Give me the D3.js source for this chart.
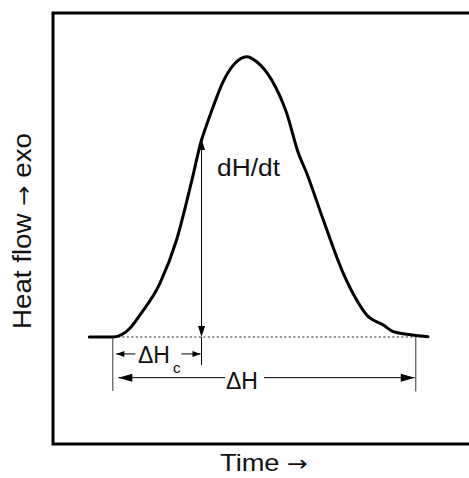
<!DOCTYPE html>
<html><head><meta charset="utf-8">
<script src="https://cdn.jsdelivr.net/npm/d3@7"></script>
<style>html,body{margin:0;padding:0;background:#fff;}svg{display:block;}</style>
</head><body>
<script>
// Data (time, heat flow) in arbitrary units
const time = [8.73,14.5,18.5,20.9,25.7,29.7,33.4,35.7,36.5,38.5,40.9,43.75,46.56,48.97,52.57,56.18,58.89,60.99,64.98,69.78,73.0,75.41,79.4,81.8,85.02,90.14];
const heat = [24.83,24.83,26.84,29.93,37.29,47.33,61.25,70.53,72.85,78.26,84.06,88.33,89.86,88.70,84.45,76.73,67.75,62.81,51.97,39.61,33.41,29.93,27.61,26.06,25.45,24.90];
const baseline = 24.83;
const tOnset = 14.5, tRate = 35.7, tEnd = 87.2, hRate = 70.53;
const labels = {x: ["Time ", "\u2192"], y: ["Heat flow ", "\u2192", " exo"], rate: "dH/dt", dh: "\u0394H", dhc: "\u0394H", sub: "c"};

const W = 469, H = 478;
const x = d3.scaleLinear().domain([0,100]).range([53,469]);
const y = d3.scaleLinear().domain([0,100]).range([444,13]);

const svg = d3.select("body").append("svg").attr("width",W).attr("height",H);
const font = "'Liberation Sans', Arial, sans-serif";
const arrowFont = "'DejaVu Sans', sans-serif";

// frame
svg.append("path").attr("d",`M${W+5},${y(100)}H${x(0)}V${y(0)}H${W+5}`)
  .attr("fill","none").attr("stroke","#000").attr("stroke-width",3);

// dotted baseline
svg.append("line").attr("x1",x(tOnset)).attr("x2",x(time[time.length-1]))
  .attr("y1",y(baseline)).attr("y2",y(baseline))
  .attr("stroke","#222").attr("stroke-width",1).attr("stroke-dasharray","2,2.5");

// curve
const pts = time.map((t,i)=>[t,heat[i]]);
svg.append("path").datum(pts)
  .attr("d", d3.line().x(d=>x(d[0])).y(d=>y(d[1])).curve(d3.curveMonotoneX))
  .attr("fill","none").attr("stroke","#000").attr("stroke-width",3)
  .attr("stroke-linejoin","round").attr("stroke-linecap","round");

function arrowHead(tx,ty,dir,len,hw){
  let p;
  if(dir==='up') p=[[tx,ty],[tx-hw,ty+len],[tx+hw,ty+len]];
  if(dir==='down') p=[[tx,ty],[tx-hw,ty-len],[tx+hw,ty-len]];
  if(dir==='left') p=[[tx,ty],[tx+len,ty-hw],[tx+len,ty+hw]];
  if(dir==='right') p=[[tx,ty],[tx-len,ty-hw],[tx-len,ty+hw]];
  svg.append("path").attr("d","M"+p.join("L")+"Z").attr("fill","#000");
}
function seg(x1,y1,x2,y2,c,w){
  svg.append("line").attr("x1",x1).attr("y1",y1).attr("x2",x2).attr("y2",y2)
    .attr("stroke",c||"#000").attr("stroke-width",w||1);
}

// vertical ticks
seg(x(tOnset)-0.5, y(baseline), x(tOnset)-0.5, y(12.3), "#333", 1);
seg(x(tEnd), y(baseline), x(tEnd), y(12.2), "#555", 1.2);
seg(x(tRate), y(baseline), x(tRate), y(18.3), "#000", 1);

// dH/dt double arrow
seg(x(tRate), y(hRate)+8, x(tRate), y(baseline)-8, "#000", 1);
arrowHead(x(tRate), y(hRate)-1, 'up', 11, 3.5);
arrowHead(x(tRate), y(baseline), 'down', 11, 3.5);
svg.append("text").attr("x",217).attr("y",176).attr("font-family",font)
  .attr("font-size",23).attr("textLength",63).attr("lengthAdjust","spacingAndGlyphs")
  .attr("fill","#111").text(labels.rate);

// ΔHc arrows
const yc = y(20.9);
seg(x(tOnset)+3, yc, x(tOnset)+22, yc);
arrowHead(x(tOnset)+3, yc, 'left', 8, 3);
seg(x(tRate)-20, yc, x(tRate)-1, yc);
arrowHead(x(tRate)-1, yc, 'right', 8, 3);
svg.append("text").attr("x",138).attr("y",363).attr("font-family",font)
  .attr("font-size",23).attr("fill","#111").text(labels.dhc);
svg.append("text").attr("x",173).attr("y",373).attr("font-family",font)
  .attr("font-size",15).attr("fill","#111").text(labels.sub);

// ΔH arrows
const yh = y(15.4);
seg(x(tOnset)+5, yh, 225, yh);
arrowHead(x(tOnset)+5, yh, 'left', 14, 4);
seg(264, yh, x(tEnd)-1, yh);
arrowHead(x(tEnd)-1, yh, 'right', 14, 4);
svg.append("text").attr("x",226).attr("y",389).attr("font-family",font)
  .attr("font-size",23).attr("fill","#111").text(labels.dh);

// axis labels
const tx = svg.append("text").attr("x",264).attr("y",471).attr("text-anchor","middle")
  .attr("font-family",font).attr("font-size",24).attr("fill","#111")
  .attr("textLength",88).attr("lengthAdjust","spacingAndGlyphs");
tx.append("tspan").text(labels.x[0]);
tx.append("tspan").attr("font-family",arrowFont).attr("font-size",22).text(labels.x[1]);

const ty = svg.append("text").attr("transform","translate(31,231) rotate(-90)")
  .attr("text-anchor","middle").attr("font-family",font).attr("font-size",25)
  .attr("fill","#111").attr("textLength",196).attr("lengthAdjust","spacingAndGlyphs");
ty.append("tspan").text(labels.y[0]);
ty.append("tspan").attr("font-family",arrowFont).attr("font-size",22).text(labels.y[1]);
ty.append("tspan").text(labels.y[2]);
</script>
</body></html>
